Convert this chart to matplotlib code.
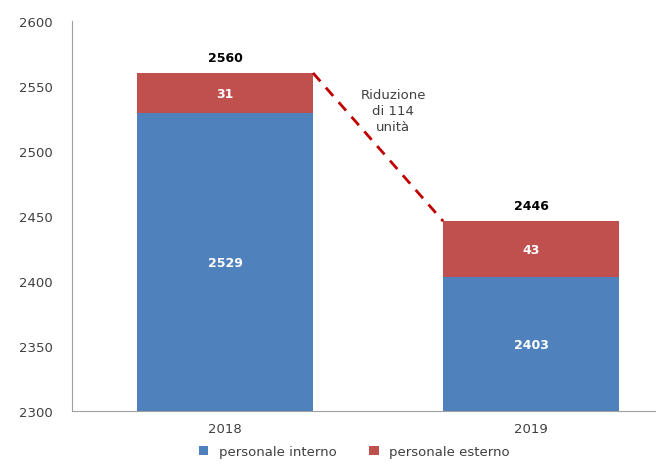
import numpy as np
import matplotlib.pyplot as plt

years = ["2018", "2019"]
interno = [2529, 2403]
esterno = [31, 43]
totals = [2560, 2446]
series_names = ["personale interno", "personale esterno"]
note = "Riduzione\ndi 114\nunità"

BLUE = "#4F81BD"
RED = "#C0504D"
GRAY = "#404040"

plt.rcParams["font.family"] = ["DejaVu Sans"]

fig = plt.figure(figsize=(6.56, 4.64), dpi=100)
ax = fig.add_axes([72 / 656, 1 - 412 / 464, 1 - 72 / 656, (412 - 22) / 464])

x = np.arange(len(years))
w = 0.575
ax.bar(x, np.array(interno) - 2300, bottom=2300, width=w, color=BLUE, label=series_names[0])
ax.bar(x, esterno, bottom=interno, width=w, color=RED, label=series_names[1])

for i in range(len(years)):
    ax.text(x[i], (2300 + interno[i]) / 2, str(interno[i]), ha="center", va="center",
            color="white", fontsize=9, fontweight="bold")
    ax.text(x[i], interno[i] + esterno[i] / 2, str(esterno[i]), ha="center", va="center",
            color="white", fontsize=9, fontweight="bold")
    ax.text(x[i], totals[i] + 7, str(totals[i]), ha="center", va="bottom",
            color="black", fontsize=9, fontweight="bold")

# dashed reduction line between bar tops
ax.plot([x[0] + w / 2, x[1] - w / 2], [totals[0], totals[1]], color="#C00000",
        linestyle=(0, (4, 3)), linewidth=2)
ax.text(0.549, 2531, note, ha="center", va="center", fontsize=9.5, color=GRAY,
        linespacing=1.3)

ax.set_xlim(-0.5, 1.408)
ax.set_ylim(2300, 2600)
ax.set_yticks(np.arange(2300, 2601, 50))
ax.set_xticks(x)
ax.set_xticklabels(years)
ax.tick_params(axis="both", length=0, labelsize=9.5, colors=GRAY)
ax.tick_params(axis="y", pad=14)
ax.tick_params(axis="x", pad=8)
for s in ["top", "right"]:
    ax.spines[s].set_visible(False)
for s in ["left", "bottom"]:
    ax.spines[s].set_color("#A0A0A0")

fig.legend(loc="center", bbox_to_anchor=(0.54, 0.025), ncol=2, frameon=False,
           fontsize=9.5, handlelength=0.7, handleheight=0.7, columnspacing=2.5,
           labelcolor=GRAY, borderpad=0.1)

fig.savefig("out.png", dpi=100)
